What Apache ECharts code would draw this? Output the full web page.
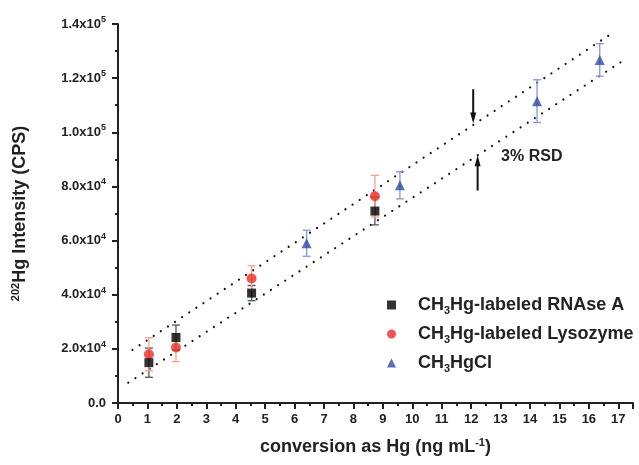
<!DOCTYPE html>
<html>
<head>
<meta charset="utf-8">
<script src="https://cdn.jsdelivr.net/npm/echarts@6/dist/echarts.min.js"></script>
<style>
  html, body { margin: 0; padding: 0; background: #fff; }
  #chart { width: 639px; height: 465px; }
</style>
</head>
<body>
<div id="chart"></div>
<script>
// data
var rnaseX = [1.05, 1.97, 4.54, 8.73]
var rnaseY = [14900, 24200, 40600, 70900]
var rnaseErr = [5400, 4600, 2800, 5100]

var lysoX = [1.05, 1.97, 4.54, 8.73]
var lysoY = [18000, 20500, 46000, 76400]
var lysoErr = [6100, 5200, 4700, 7700]

var hgclX = [6.41, 9.58, 14.24, 16.37]
var hgclY = [59000, 80400, 111500, 126700]
var hgclErr = [4800, 5000, 7900, 6000]

// 3% RSD band (dotted lines)
var upperX = [0.49, 16.75]
var upperY = [19600, 136300]
var lowerX = [0.35, 17.14]
var lowerY = [7500, 126300]

// arrows and label
var arrowX = [12.07, 12.22]
var arrowFrom = [115900, 78500]
var arrowTo = [103200, 91500]
var rsdText = '3% RSD'
var rsdAt = [14.06, 91100]

var seriesNames = ['CH3Hg-labeled RNAse A', 'CH3Hg-labeled Lysozyme', 'CH3HgCl']

var FONT = '"Liberation Sans", Arial, sans-serif'
var TXT = '#222'

function pts(xs, ys) {
  return xs.map(function (x, i) { return [x, ys[i]] })
}
function bars(xs, ys, es) {
  return xs.map(function (x, i) { return [x, ys[i] - es[i], ys[i] + es[i]] })
}

function errorBar(color) {
  return function (params, api) {
    var x = api.value(0)
    var lo = api.coord([x, api.value(1)])
    var hi = api.coord([x, api.value(2)])
    var w = 4
    var st = { stroke: color, lineWidth: 1.3 }
    return {
      type: 'group',
      children: [
        { type: 'line', shape: { x1: lo[0], y1: lo[1], x2: hi[0], y2: hi[1] }, style: st },
        { type: 'line', shape: { x1: lo[0] - w, y1: lo[1], x2: lo[0] + w, y2: lo[1] }, style: st },
        { type: 'line', shape: { x1: hi[0] - w, y1: hi[1], x2: hi[0] + w, y2: hi[1] }, style: st }
      ]
    }
  }
}

function arrow(params, api) {
  var a = api.coord([api.value(0), api.value(1)])
  var b = api.coord([api.value(0), api.value(2)])
  var dir = b[1] > a[1] ? 1 : -1
  var head = 11
  return {
    type: 'group',
    children: [
      { type: 'line', shape: { x1: a[0], y1: a[1], x2: b[0], y2: b[1] - dir * head + dir * 2 }, style: { stroke: '#111', lineWidth: 2 } },
      { type: 'polygon', shape: { points: [[b[0] - 3, b[1] - dir * head], [b[0] + 3, b[1] - dir * head], [b[0], b[1]]] }, style: { fill: '#111' } }
    ]
  }
}

function yLabel(v) {
  if (v === 0) return '{b|0.0}'
  var e = Math.floor(Math.log10(v))
  var m = v / Math.pow(10, e)
  return '{b|' + m.toFixed(1) + 'x10}{sup|' + e + '}'
}

var dotLine = { color: '#111', width: 2.2, type: [0.01, 8.5], cap: 'round' }

var chart = echarts.init(document.getElementById('chart'))

chart.setOption({
  animation: false,
  backgroundColor: '#fff',
  textStyle: { fontFamily: FONT },
  grid: { left: 118, right: 6, top: 24, bottom: 62 },
  legend: {
    orient: 'vertical',
    left: 382,
    top: 291,
    itemWidth: 9,
    itemHeight: 9,
    itemGap: 9,
    data: [
      { name: seriesNames[0], icon: 'rect' },
      { name: seriesNames[1], icon: 'circle' },
      { name: seriesNames[2], icon: 'triangle' }
    ],
    formatter: function (name) {
      return '{b|' + name.replace('CH3', 'CH}{sub|3}{b|') + '}'
    },
    textStyle: {
      padding: [0, 0, 0, 17],
      rich: {
        b: { fontSize: 18, fontWeight: 'bold', color: TXT, fontFamily: FONT, lineHeight: 22 },
        sub: { fontSize: 11, fontWeight: 'bold', color: TXT, fontFamily: FONT, lineHeight: 11, verticalAlign: 'bottom' }
      }
    }
  },
  xAxis: {
    type: 'value',
    min: 0,
    max: 17.5,
    interval: 1,
    name: 'conversion as Hg (ng mL{sup|-1})',
    nameLocation: 'middle',
    nameGap: 34,
    nameTextStyle: {
      rich: {
        sup: { fontSize: 11, fontWeight: 'bold', color: TXT, fontFamily: FONT, lineHeight: 11, verticalAlign: 'top' }
      },
      fontSize: 18, fontWeight: 'bold', color: TXT, fontFamily: FONT, lineHeight: 20
    },
    splitLine: { show: false },
    axisLine: { lineStyle: { color: '#222', width: 2 } },
    axisTick: { inside: false, length: 6, lineStyle: { color: '#222', width: 2 } },
    minorTick: { show: true, splitNumber: 2, length: 3, lineStyle: { color: '#222', width: 2 } },
    axisLabel: {
      showMaxLabel: false,
      margin: 10,
      fontSize: 13, fontWeight: 'bold', color: TXT, fontFamily: FONT,
      formatter: function (v) { return v % 1 === 0 ? String(v) : '' }
    }
  },
  yAxis: {
    type: 'value',
    min: 0,
    max: 140000,
    interval: 20000,
    name: '{sup|202}Hg Intensity (CPS)',
    nameLocation: 'middle',
    nameRotate: 90,
    nameGap: 88,
    nameTextStyle: {
      rich: {
        sup: { fontSize: 11, fontWeight: 'bold', color: TXT, fontFamily: FONT, lineHeight: 11, verticalAlign: 'top' }
      },
      fontSize: 18, fontWeight: 'bold', color: TXT, fontFamily: FONT, lineHeight: 20
    },
    splitLine: { show: false },
    axisLine: { show: true, lineStyle: { color: '#222', width: 2 } },
    axisTick: { show: true, inside: false, length: 6, lineStyle: { color: '#222', width: 2 } },
    minorTick: { show: true, splitNumber: 2, length: 3, lineStyle: { color: '#222', width: 2 } },
    axisLabel: {
      margin: 12,
      formatter: yLabel,
      rich: {
        b: { fontSize: 13, fontWeight: 'bold', color: TXT, fontFamily: FONT, lineHeight: 18 },
        sup: { fontSize: 9, fontWeight: 'bold', color: TXT, fontFamily: FONT, lineHeight: 9, verticalAlign: 'top' }
      }
    }
  },
  series: [
    { type: 'line', data: pts(upperX, upperY), symbol: 'none', silent: true, lineStyle: dotLine, z: 1 },
    { type: 'line', data: pts(lowerX, lowerY), symbol: 'none', silent: true, lineStyle: dotLine, z: 1 },
    { type: 'custom', renderItem: errorBar('#555'), data: bars(rnaseX, rnaseY, rnaseErr), z: 2, silent: true },
    { type: 'custom', renderItem: errorBar('#f4a08f'), data: bars(lysoX, lysoY, lysoErr), z: 2, silent: true },
    { type: 'custom', renderItem: errorBar('#8795d6'), data: bars(hgclX, hgclY, hgclErr), z: 2, silent: true },
    {
      name: seriesNames[0], type: 'scatter', symbol: 'rect', symbolSize: 9,
      itemStyle: { color: '#000' }, data: pts(rnaseX, rnaseY), z: 4
    },
    {
      name: seriesNames[1], type: 'scatter', symbol: 'circle', symbolSize: 10,
      itemStyle: { color: '#ec2b25' }, data: pts(lysoX, lysoY), z: 3
    },
    {
      name: seriesNames[2], type: 'scatter', symbol: 'triangle', symbolSize: 10,
      itemStyle: { color: '#2f4aa8' }, data: pts(hgclX, hgclY), z: 4
    },
    {
      type: 'custom', renderItem: arrow, silent: true, z: 5,
      data: arrowX.map(function (x, i) { return [x, arrowFrom[i], arrowTo[i]] })
    },
    {
      type: 'custom', silent: true, z: 5,
      data: [rsdAt],
      renderItem: function (params, api) {
        var p = api.coord([api.value(0), api.value(1)])
        return {
          type: 'text', x: p[0], y: p[1],
          style: { text: rsdText, fill: TXT, font: 'bold 16px ' + FONT, align: 'center', verticalAlign: 'middle' }
        }
      }
    }
  ]
})
</script>
</body>
</html>
